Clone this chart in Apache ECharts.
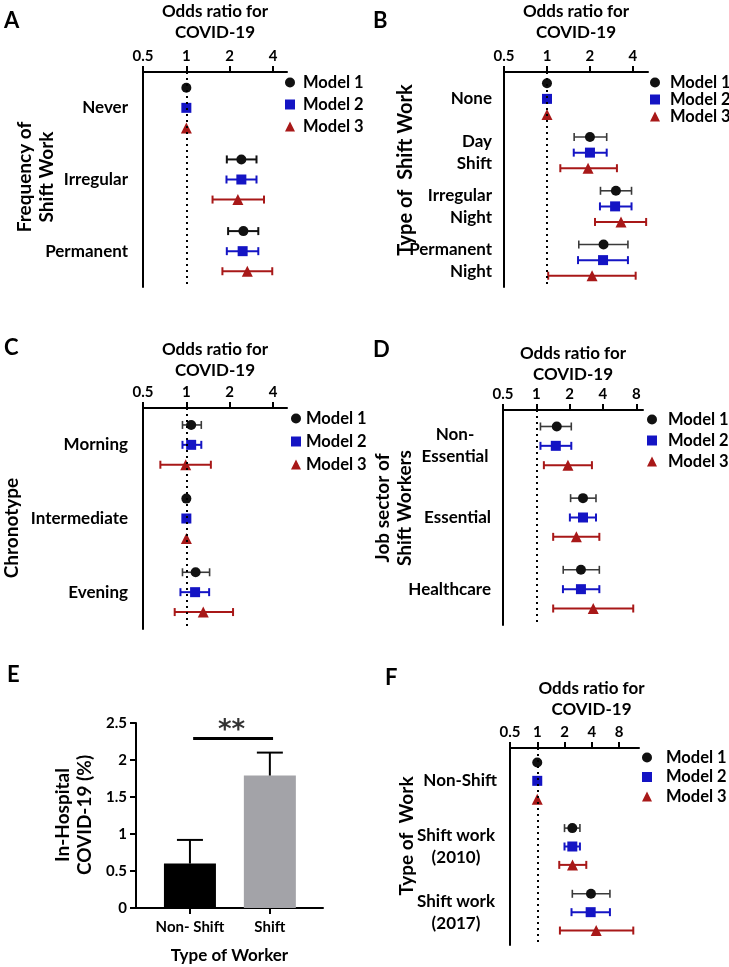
<!DOCTYPE html>
<html>
<head>
<meta charset="utf-8">
<script src="https://cdn.jsdelivr.net/npm/echarts@6/dist/echarts.min.js"></script>
<style>
  html, body { margin: 0; padding: 0; background: #fff; }
  #chart { width: 729px; height: 967px; }
</style>
</head>
<body>
<div id="chart"></div>
<script>
var FONT = 'Lato';

var modelNames = ['Model 1', 'Model 2', 'Model 3'];
var modelSymbols = ['circle', 'rect', 'triangle'];
var modelColors = ['#111111', '#1414c4', '#a81818'];

// A - frequency of shift work  (rows = model 1..3, cols = categories)
var freqCats = ['Never', 'Irregular', 'Permanent'];
var freqOR = [[1, 2.41, 2.49], [1, 2.41, 2.46], [1, 2.28, 2.65]];
var freqLow = [[null, 1.91, 1.95], [null, 1.90, 1.91], [null, 1.52, 1.78]];
var freqHigh = [[null, 3.07, 3.16], [null, 3.07, 3.16], [null, 3.46, 3.95]];

// B - type of shift work
var typeCats = ['None', 'Day\nShift', 'Irregular\nNight', 'Permanent\nNight'];
var typeOR = [[1, 2.0, 3.04, 2.49], [1, 2.0, 3.0, 2.47], [1, 1.94, 3.3, 2.07]];
var typeLow = [[null, 1.55, 2.37, 1.67], [null, 1.54, 2.35, 1.65], [null, 1.24, 2.17, 1.02]];
var typeHigh = [[null, 2.62, 3.91, 3.69], [null, 2.62, 3.91, 3.69], [null, 3.09, 4.95, 4.18]];

// C - chronotype
var chronoCats = ['Morning', 'Intermediate', 'Evening'];
var chronoOR = [[1.08, 1, 1.16], [1.08, 1, 1.15], [0.99, 1, 1.31]];
var chronoLow = [[0.94, null, 0.94], [0.94, null, 0.91], [0.66, null, 0.83]];
var chronoHigh = [[1.27, null, 1.45], [1.27, null, 1.44], [1.48, null, 2.11]];

// D - job sector of shift workers
var sectorCats = ['Non-\nEssential', 'Essential', 'Healthcare'];
var sectorOR = [[1.53, 2.64, 2.53], [1.5, 2.64, 2.53], [1.93, 2.3, 3.27]];
var sectorLow = [[1.09, 2.04, 1.75], [1.09, 2.01, 1.74], [1.17, 1.42, 1.42]];
var sectorHigh = [[2.07, 3.46, 3.71], [2.07, 3.46, 3.71], [3.18, 3.71, 7.51]];

// E - in-hospital covid-19
var workerTypes = ['Non- Shift', 'Shift'];
var hospitalPct = [0.6, 1.79];
var hospitalUpper = [0.92, 2.1];
var sigLevel = 2.29;

// F - type of work
var workCats = ['Non-Shift', 'Shift work\n(2010)', 'Shift work\n(2017)'];
var workOR = [[1, 2.44, 3.92], [1, 2.44, 3.89], [1, 2.45, 4.48]];
var workLow = [[null, 2.0, 2.44], [null, 2.0, 2.39], [null, 1.75, 1.78]];
var workHigh = [[null, 2.96, 6.35], [null, 2.96, 6.35], [null, 3.48, 11.5]];

var ticksSmall = [0.5, 1, 2, 4];
var ticksWide = [0.5, 1, 2, 4, 8];

var option = {
    backgroundColor: '#fff',
    animation: false,
    textStyle: { fontFamily: FONT },
    title: [], legend: [], grid: [], xAxis: [], yAxis: [], series: [], graphic: []
};

function log2(v) { return Math.log(v) / Math.LN2; }

function boldText(size, extra) {
    var s = { fontFamily: FONT, fontSize: size, fontWeight: 'bold', color: '#000' };
    for (var k in extra) s[k] = extra[k];
    return s;
}

function addLetter(txt, left, top) {
    option.title.push({ text: txt, left: left, top: top, padding: 0,
        textStyle: boldText(22) });
}

// rotated axis title placed beside a panel
function addSideTitle(txt, cx, cy, size) {
    option.graphic.push({ type: 'text', x: cx, y: cy, rotation: Math.PI / 2, silent: true,
        style: { text: txt, fill: '#000', font: 'bold ' + (size || 19) + 'px ' + FONT,
            lineHeight: 22, align: 'center', verticalAlign: 'middle' } });
}

function hBar(color, width) {
    return function (params, api) {
        var y = api.value(2);
        var a = api.coord([api.value(0), y]);
        var b = api.coord([api.value(1), y]);
        var h = 4;
        var st = { stroke: color, lineWidth: width };
        return { type: 'group', children: [
            { type: 'line', shape: { x1: a[0], y1: a[1], x2: b[0], y2: b[1] }, style: st },
            { type: 'line', shape: { x1: a[0], y1: a[1] - h, x2: a[0], y2: a[1] + h }, style: st },
            { type: 'line', shape: { x1: b[0], y1: b[1] - h, x2: b[0], y2: b[1] + h }, style: st }
        ] };
    };
}

function addForest(p) {
    var gi = option.grid.length;
    var xi = option.xAxis.length;
    var yi = option.yAxis.length;
    option.grid.push({ left: p.left, top: p.top, width: p.width, height: p.height });
    var tickVals = p.ticks.map(log2);
    option.xAxis.push({
        type: 'value', gridIndex: gi, position: 'top',
        min: -1, max: log2(p.maxOR),
        name: 'Odds ratio for\nCOVID-19', nameLocation: 'middle', nameGap: p.nameGap,
        nameTextStyle: boldText(17, { lineHeight: 21, padding: p.titlePad || 0 }),
        axisLine: { onZero: false, lineStyle: { color: '#000', width: 2 } },
        axisTick: { customValues: tickVals, length: 6, lineStyle: { color: '#000', width: 2 } },
        axisLabel: { customValues: tickVals, margin: 8,
            fontSize: 15, fontWeight: 'bold', color: '#000', fontFamily: FONT,
            formatter: function (v) { return String(+Math.pow(2, v).toFixed(2)); } },
        splitLine: { show: false }
    });
    var label = { margin: p.labelMargin, fontSize: 17, fontWeight: 'bold', color: '#000',
        fontFamily: FONT, lineHeight: 22 };
    if (p.centerWidth) {
        label.formatter = function (v) {
            if (v.indexOf('\n') < 0) return v;
            return v.split('\n').map(function (s) { return '{c|' + s + '}'; }).join('\n');
        };
        label.rich = { c: boldText(17, { width: p.centerWidth, align: 'center', lineHeight: 22 }) };
    }
    option.yAxis.push({
        type: 'category', gridIndex: gi, inverse: true, data: p.cats,
        axisLine: { onZero: false, lineStyle: { color: '#000', width: 2 } },
        axisTick: { alignWithLabel: true, length: 8, lineStyle: { color: '#000', width: 2 } },
        axisLabel: label,
        splitLine: { show: false }
    });
    option.yAxis.push({ type: 'value', gridIndex: gi, min: 0, max: p.cats.length,
        inverse: true, show: false });

    for (var m = 0; m < 3; m++) {
        var pts = [], bars = [];
        for (var c = 0; c < p.cats.length; c++) {
            var y = c + 0.5 + (m - 1) * p.spread;
            pts.push([log2(p.or[m][c]), y]);
            if (p.low[m][c] != null) {
                bars.push([log2(p.low[m][c]), log2(p.high[m][c]), y]);
            }
        }
        // model 1 whiskers are drawn a little lighter than the others
        var barColor = (m === 0 && p.letter !== 'A') ? '#3a3a3a' : modelColors[m];
        option.series.push({
            type: 'custom', xAxisIndex: xi, yAxisIndex: yi + 1, silent: true, z: 2,
            encode: { x: [0, 1], y: 2 },
            renderItem: hBar(barColor, m === 0 && p.letter !== 'A' ? 1.6 : 2), data: bars
        });
        var s = {
            type: 'scatter', name: modelNames[m], xAxisIndex: xi, yAxisIndex: yi + 1,
            symbol: modelSymbols[m], symbolSize: m === 2 ? 11 : 10, z: 3, silent: true,
            itemStyle: { color: modelColors[m], opacity: 1 },
            data: pts
        };
        if (m === 0) {
            s.markLine = { silent: true, symbol: ['none', 'none'], label: { show: false },
                lineStyle: { color: '#000', width: 2, type: [2, 4] },
                data: [{ xAxis: 0 }] };
        }
        option.series.push(s);
    }

    option.legend.push({
        orient: 'vertical', left: p.legendLeft, top: p.legendTop, padding: 0,
        itemWidth: 10, itemHeight: 10, itemGap: p.legendGap, selectedMode: false,
        textStyle: boldText(16.5, { lineHeight: 16, padding: [0, 0, 0, p.legendPad] }),
        data: modelNames.map(function (n, i) { return { name: n, icon: modelSymbols[i] }; })
    });
    addLetter(p.letter, p.letterLeft, p.letterTop);
    addSideTitle(p.yName, p.yNameX, p.yNameY, p.yNameSize);
}

addForest({ letter: 'A', letterLeft: 4, letterTop: 10,
    left: 143, top: 71, width: 144, height: 216, maxOR: 5, ticks: ticksSmall, nameGap: 29,
    cats: freqCats, or: freqOR, low: freqLow, high: freqHigh,
    yName: 'Frequency of\nShift Work', yNameX: 36, yNameY: 177, labelMargin: 15, spread: 0.28,
    legendLeft: 285, legendTop: 74, legendGap: 5, legendPad: 3 });

addForest({ letter: 'B', letterLeft: 373, letterTop: 10,
    left: 504, top: 71, width: 144, height: 216, maxOR: 5.1, ticks: ticksSmall, nameGap: 29,
    cats: typeCats, or: typeOR, low: typeLow, high: typeHigh,
    yName: 'Type of  Shift Work', yNameX: 406, yNameY: 170, yNameSize: 20,
    labelMargin: 12, spread: 0.29,
    legendLeft: 650, legendTop: 74, legendGap: 0, legendPad: 5 });

addForest({ letter: 'C', letterLeft: 4, letterTop: 337,
    left: 143, top: 408, width: 144, height: 221, maxOR: 5, ticks: ticksSmall, nameGap: 27,
    cats: chronoCats, or: chronoOR, low: chronoLow, high: chronoHigh,
    yName: 'Chronotype', yNameX: 12, yNameY: 528, labelMargin: 15, spread: 0.27,
    legendLeft: 291, legendTop: 410, legendGap: 6, legendPad: 0 });

addForest({ letter: 'D', letterLeft: 373, letterTop: 339,
    left: 503, top: 410, width: 140, height: 215, maxOR: 9.2, ticks: ticksWide, nameGap: 25,
    cats: sectorCats, or: sectorOR, low: sectorLow, high: sectorHigh,
    yName: 'Job sector of\nShift Workers', yNameX: 394, yNameY: 508,
    labelMargin: 12, spread: 0.27, centerWidth: 72,
    legendLeft: 647, legendTop: 411, legendGap: 4, legendPad: 6 });

addForest({ letter: 'F', letterLeft: 385, letterTop: 667,
    left: 510, top: 748, width: 129, height: 197, maxOR: 13.3, ticks: ticksWide, nameGap: 28,
    titlePad: [0, 0, 0, 34],
    cats: workCats, or: workOR, low: workLow, high: workHigh,
    yName: 'Type of  Work', yNameX: 407, yNameY: 836,
    labelMargin: 13, spread: 0.28, centerWidth: 82,
    legendLeft: 642, legendTop: 749, legendGap: 2.5, legendPad: 9 });

// Panel E - bar chart
(function () {
    var gi = option.grid.length;
    var xi = option.xAxis.length;
    var yi = option.yAxis.length;
    option.grid.push({ left: 136, top: 723, width: 187, height: 185 });
    option.xAxis.push({
        type: 'value', gridIndex: gi, min: -0.675, max: 1.665,
        name: 'Type of Worker', nameLocation: 'middle', nameGap: 39,
        nameTextStyle: boldText(17),
        axisLine: { onZero: false, lineStyle: { color: '#000', width: 2 } },
        axisTick: { customValues: [0, 1], length: 6, lineStyle: { color: '#000', width: 2 } },
        axisLabel: { customValues: [0, 1], margin: 12, fontSize: 15, fontWeight: 'bold',
            color: '#000', fontFamily: FONT,
            formatter: function (v) { return workerTypes[Math.round(v)]; } },
        splitLine: { show: false }
    });
    option.yAxis.push({
        type: 'value', gridIndex: gi, min: 0, max: 2.5, interval: 0.5,
        axisLine: { show: true, onZero: false, lineStyle: { color: '#000', width: 2 } },
        axisTick: { show: true, length: 6, lineStyle: { color: '#000', width: 2 } },
        axisLabel: { margin: 9, fontSize: 15, fontWeight: 'bold', color: '#000', fontFamily: FONT },
        splitLine: { show: false }
    });
    var barColors = ['#000000', '#a3a3a8'];
    option.series.push({
        type: 'bar', xAxisIndex: xi, yAxisIndex: yi, barWidth: 52, z: 2, silent: true,
        data: hospitalPct.map(function (v, i) {
            return { value: [i, v], itemStyle: { color: barColors[i] } };
        })
    });
    option.series.push({
        type: 'custom', xAxisIndex: xi, yAxisIndex: yi, z: 3, silent: true,
        encode: { x: 0, y: [1, 2] },
        data: hospitalPct.map(function (v, i) { return [i, v, hospitalUpper[i]]; }),
        renderItem: function (params, api) {
            var a = api.coord([api.value(0), api.value(1)]);
            var b = api.coord([api.value(0), api.value(2)]);
            var st = { stroke: '#000', lineWidth: 2 };
            return { type: 'group', children: [
                { type: 'line', shape: { x1: a[0], y1: a[1], x2: b[0], y2: b[1] }, style: st },
                { type: 'line', shape: { x1: b[0] - 13, y1: b[1], x2: b[0] + 13, y2: b[1] }, style: st }
            ] };
        }
    });
    option.series.push({
        type: 'line', xAxisIndex: xi, yAxisIndex: yi, silent: true, symbol: 'none', z: 3,
        lineStyle: { color: '#000', width: 3 },
        data: [[0.04, sigLevel], [1.04, sigLevel]]
    });
    option.series.push({
        type: 'scatter', xAxisIndex: xi, yAxisIndex: yi, silent: true, symbolSize: 1,
        itemStyle: { color: 'rgba(0,0,0,0)' },
        label: { show: true, position: 'top', distance: -6, formatter: '**',
            fontSize: 26, fontWeight: 'bold', color: '#000', fontFamily: 'DejaVu Sans' },
        data: [[0.52, sigLevel]]
    });
    addLetter('E', 7, 664);
    addSideTitle('In-Hospital\nCOVID-19 (%)', 74, 815);
})();

var chart = echarts.init(document.getElementById('chart'));
chart.setOption(option);
</script>
</body>
</html>
